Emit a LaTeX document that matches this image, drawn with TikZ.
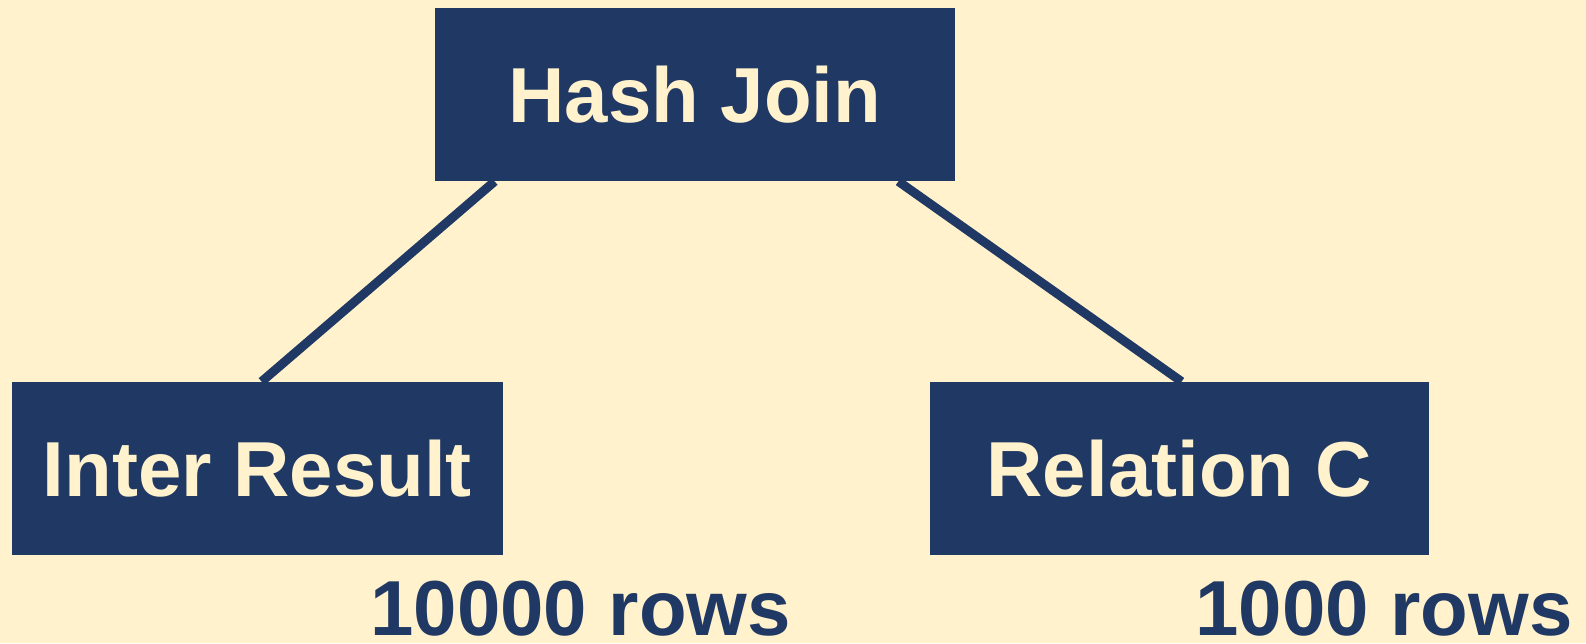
\documentclass[tikz,border=0pt]{standalone}
\usepackage{fontspec}
\setmainfont{Liberation Sans}
\usetikzlibrary{calc,backgrounds}
\definecolor{navy}{HTML}{203864}
\definecolor{cream}{HTML}{FFF2CC}
\tikzset{
  opbox/.style={rectangle, fill=navy, draw=none, text=cream,
    font=\fontsize{39}{46}\selectfont\bfseries, inner sep=0pt,
    minimum height=86.5pt},
  link/.style={draw=navy, line width=4.5pt},
  rowcount/.style={text=navy, font=\fontsize{39}{46}\selectfont\bfseries,
    anchor=base west, inner sep=0pt}
}
\begin{document}
\begin{tikzpicture}[x=0.5pt, y=-0.5pt]
  \useasboundingbox (0,0) rectangle (1586,643);

  % operator boxes
  \node[opbox, minimum width=260pt]   (hj) at (695,94.5)    {Hash Join};
  \node[opbox, minimum width=245.5pt] (ir) at (257.5,468.5) {Inter Result};
  \node[opbox, minimum width=249.5pt] (rc) at (1179.5,468.5) {Relation C};

  % edge end points on the box borders
  \coordinate (hjl) at ($(hj.south west)+(60,0)$);
  \coordinate (hjr) at ($(hj.south east)+(-57,0)$);
  \coordinate (irt) at ($(ir.north west)+(250,0)$);
  \coordinate (rct) at ($(rc.north west)+(252,0)$);

  % page colour and edges, behind the boxes
  \begin{scope}[on background layer]
    \fill[cream] (0,0) rectangle (1586,643);
    \draw[link] (hjl) -- (irt);
    \draw[link] (hjr) -- (rct);
  \end{scope}

  % row counts
  \node[rowcount] (irn) at (370,635)  {10000 rows};
  \node[rowcount] (rcn) at (1195,635) {1000 rows};
\end{tikzpicture}
\end{document}
